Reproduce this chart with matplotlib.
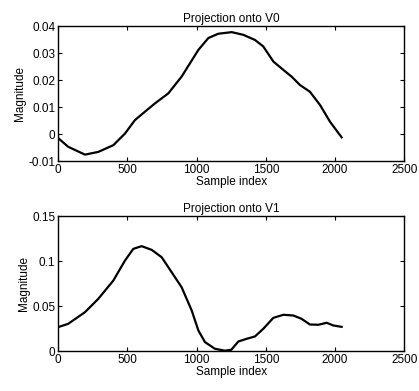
import matplotlib

matplotlib.use("Agg")

import matplotlib.pyplot as plt  # noqa: E402

# Projection onto V0
v0_index = [0, 72, 193, 289, 398, 482, 554, 626, 699, 795, 891, 1012, 1084, 1156,
            1253, 1337, 1421, 1481, 1554, 1626, 1686, 1746, 1818, 1891, 1963, 2047]
v0_value = [-0.0015, -0.0047, -0.0076, -0.0066, -0.0041, 0.0002, 0.0052, 0.0083,
            0.0114, 0.0151, 0.0213, 0.0312, 0.0356, 0.0372, 0.0378, 0.0368, 0.0349,
            0.0325, 0.0269, 0.0238, 0.0213, 0.0182, 0.0157, 0.0108, 0.0046, -0.0012]

# Projection onto V1
v1_index = [0, 72, 193, 289, 398, 482, 542, 602, 675, 747, 819, 891, 964, 1012,
            1060, 1132, 1204, 1250, 1301, 1361, 1421, 1481, 1554, 1626, 1698, 1758,
            1818, 1879, 1939, 1987, 2047]
v1_value = [0.0267, 0.0304, 0.0433, 0.0581, 0.0785, 0.1007, 0.1137, 0.1167, 0.1126,
            0.1044, 0.0878, 0.0711, 0.0452, 0.023, 0.010, 0.0026, 0.0005, 0.0015,
            0.0107, 0.0137, 0.0163, 0.0248, 0.037, 0.0404, 0.0396, 0.0359, 0.0296,
            0.0293, 0.0315, 0.0285, 0.027]

x_ticks = [0, 500, 1000, 1500, 2000, 2500]
v0_ticks = [-0.01, 0, 0.01, 0.02, 0.03, 0.04]
v0_labels = ["-0.01", "0", "0.01", "0.02", "0.03", "0.04"]
v1_ticks = [0, 0.05, 0.1, 0.15]
v1_labels = ["0", "0.05", "0.1", "0.15"]

plt.rcParams["font.family"] = ["Liberation Sans", "DejaVu Sans"]
plt.rcParams["font.size"] = 8.5

fig = plt.figure(figsize=(4.19, 3.91), dpi=100)
ax_top = fig.add_axes([0.139, 0.588, 0.826, 0.345])
ax_bot = fig.add_axes([0.139, 0.102, 0.826, 0.345])

panels = [
    (ax_top, v0_index, v0_value, v0_ticks, v0_labels, (-0.01, 0.04), "Projection onto V0"),
    (ax_bot, v1_index, v1_value, v1_ticks, v1_labels, (0, 0.15), "Projection onto V1"),
]
for ax, xs, ys, yt, yl, ylim, title in panels:
    ax.plot(xs, ys, color="black", linewidth=1.6)
    ax.set_xlim(0, 2500)
    ax.set_ylim(*ylim)
    ax.set_xticks(x_ticks)
    ax.set_yticks(yt)
    ax.set_yticklabels(yl)
    ax.tick_params(direction="in", length=3, width=0.8, top=True, right=True, pad=2)
    for spine in ax.spines.values():
        spine.set_linewidth(1.0)
    ax.set_title(title, fontsize=8.5, pad=3)
    ax.set_xlabel("Sample index", labelpad=0)
    ax.set_ylabel("Magnitude", labelpad=2)

fig.savefig("out.png", dpi=100)
